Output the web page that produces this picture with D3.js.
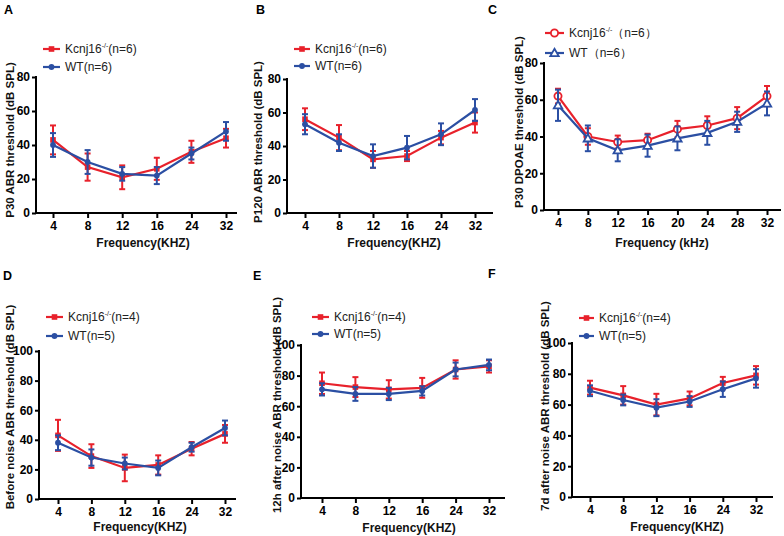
<!DOCTYPE html>
<html><head><meta charset="utf-8">
<script src="https://cdn.jsdelivr.net/npm/d3@7/dist/d3.min.js"></script>
<style>
body{margin:0;background:#fff;}
svg{display:block;font-family:"Liberation Sans",Arial,sans-serif;}
</style></head>
<body>
<svg id="chart" width="784" height="536"></svg>
<script>
// ---------- DATA ----------
const freq6 = ["4","8","12","16","24","32"];
const freq8 = ["4","8","12","16","20","24","28","32"];

const aKcnj = [43,27,21,26,36,44];      const aKcnjErr = [8.5,8,7,6.5,6.5,5.5];
const aWT   = [40,30,23,22,35,48];      const aWTErr   = [7,7,4,5,3.5,5.5];
const bKcnj = [56,45,32,34,45,54];      const bKcnjErr = [6.5,7.5,5,3,4,6];
const bWT   = [53,42,34,39,47,61.5];    const bWTErr   = [6,5,7,7,6.5,6.5];
const cKcnj = [62,40,37,38,44,46,50,62];   const cKcnjErr = [4,4.5,3.5,3.5,4.5,5,6,5.5];
const cWT   = [57,39,32.5,35,39,42,48,58]; const cWTErr   = [8.5,7,6,6,6.5,6.5,5.5,6.5];
const dKcnj = [43,29,21,23,34,44];      const dKcnjErr = [10.5,8,9,6.5,4.5,6];
const dWT   = [38,28,24,21,35,48];      const dWTErr   = [5,5.5,4,5,3,5];
const eKcnj = [75,72.5,71,72,84,86];    const eKcnjErr = [7,6.5,6,6.5,6,4];
const eWT   = [71,68,68,70,84,87];      const eWTErr   = [4,4.5,4,3,4.5,3.5];
const fKcnj = [71,66,60,64,74,79];      const fKcnjErr = [4.5,6,7,4.5,4,6];
const fWT   = [69,63,58,62,70,77];      const fWTErr   = [3.5,3.5,5.5,3.5,5,6];

const yLabels = ["P30 ABR threshold (dB SPL)","P120 ABR threshold (dB SPL)","P30 DPOAE threshold (dB SPL)",
  "Before noise ABR threshold (dB SPL)","12h after noise ABR threshold (dB SPL)","7d after noise ABR threshold (dB SPL)"];
const xLabels = ["Frequency(KHZ)","Frequency(KHZ)","Frequency (kHz)","Frequency(KHZ)","Frequency(KHZ)","Frequency(KHZ)"];
const letters = ["A","B","C","D","E","F"];
const nKcnj = ["6","6","6","4","4","4"];
const nWT   = ["6","6","6","5","5","5"];

// ---------- LAYOUT ----------
const RED = "#e8212b", BLUE = "#2b4fa3";
const panels = [
  {id:0, cats:freq6, k:aKcnj, ke:aKcnjErr, w:aWT, we:aWTErr, yMax:80,
   yx:36, x0:53, x1:226, xend:236, yBot:213, yTop:77, lx:43, lw:17, ly:49, ly2:67, ylx:10, ylc:140, xlc:143, xly:247, letX:4, letY:14, open:false},
  {id:1, cats:freq6, k:bKcnj, ke:bKcnjErr, w:bWT, we:bWTErr, yMax:80,
   yx:287, x0:305, x1:475, xend:492, yBot:213, yTop:79, lx:294, lw:16, ly:49, ly2:66, ylx:258, ylc:142, xlc:394, xly:247, letX:256, letY:14, open:false},
  {id:2, cats:freq8, k:cKcnj, ke:cKcnjErr, w:cWT, we:cWTErr, yMax:80,
   yx:544, x0:558, x1:767, xend:780, yBot:210, yTop:63, lx:545, lw:19, ly:33, ly2:53, ylx:519, ylc:122, xlc:662, xly:247, letX:488, letY:14, open:true},
  {id:3, cats:freq6, k:dKcnj, ke:dKcnjErr, w:dWT, we:dWTErr, yMax:100,
   yx:39, x0:58, x1:225, xend:235, yBot:499, yTop:351, lx:46, lw:17, ly:317, ly2:336, ylx:10, ylc:407, xlc:140, xly:531, letX:3, letY:280, open:false},
  {id:4, cats:freq6, k:eKcnj, ke:eKcnjErr, w:eWT, we:eWTErr, yMax:100,
   yx:301, x0:322, x1:489, xend:504, yBot:498, yTop:345, lx:312, lw:17, ly:317, ly2:334, ylx:277, ylc:405, xlc:409, xly:532, letX:253, letY:280, open:false},
  {id:5, cats:freq6, k:fKcnj, ke:fKcnjErr, w:fWT, we:fWTErr, yMax:100,
   yx:572, x0:590, x1:756, xend:772, yBot:497, yTop:343, lx:579, lw:15, ly:318, ly2:336, ylx:545, ylc:406, xlc:677, xly:531, letX:488, letY:278, open:false}
];

const svg = d3.select("#chart");

function marker(g, kind, cx, cy, color, open){
  if(kind==="k"){
    if(open){
      g.append("circle").attr("cx",cx).attr("cy",cy).attr("r",3.6)
        .attr("fill","#fff").attr("stroke",color).attr("stroke-width",1.8);
    } else {
      g.append("rect").attr("x",cx-2.8).attr("y",cy-2.8).attr("width",5.6).attr("height",5.6).attr("fill",color);
    }
  } else {
    if(open){
      const s=4.2;
      g.append("path").attr("d",`M${cx},${cy-s}L${cx+s},${cy+s*0.75}L${cx-s},${cy+s*0.75}Z`)
        .attr("fill","#fff").attr("stroke",color).attr("stroke-width",1.8);
    } else {
      g.append("circle").attr("cx",cx).attr("cy",cy).attr("r",2.9).attr("fill",color);
    }
  }
}

panels.forEach(p=>{
  const g = svg.append("g");
  const x = d3.scalePoint().domain(p.cats).range([p.x0,p.x1]);
  const y = d3.scaleLinear().domain([0,p.yMax]).range([p.yBot,p.yTop]);

  // axes
  const ya = g.append("g").attr("transform",`translate(${p.yx},0)`)
    .call(d3.axisLeft(y).tickValues(d3.range(0,p.yMax+1,20)).tickSize(4).tickPadding(2).tickSizeOuter(0));
  const xa = g.append("g").attr("transform",`translate(0,${p.yBot})`)
    .call(d3.axisBottom(x).tickSize(5).tickPadding(3).tickSizeOuter(0));
  xa.select(".domain").attr("d",`M${p.yx},0H${p.xend}`);
  ya.select(".domain").attr("d",`M0,${p.yTop}V${p.yBot}`);
  [ya,xa].forEach(a=>{
    a.selectAll(".domain,.tick line").attr("stroke","#000").attr("stroke-width",2);
    a.selectAll(".domain").attr("stroke-linecap","square");
    a.selectAll("text").attr("font-size",12).attr("font-weight","bold").attr("fill","#000")
      .attr("font-family","'Liberation Sans',Arial,sans-serif");
  });

  // series
  const series = [
    {vals:p.k, err:p.ke, color:RED, kind:"k"},
    {vals:p.w, err:p.we, color:BLUE, kind:"w"}
  ];
  series.forEach(s=>{
    const sg = g.append("g");
    const line = d3.line().x((d,i)=>x(p.cats[i])).y(d=>y(d));
    sg.append("path").datum(s.vals).attr("d",line).attr("fill","none")
      .attr("stroke",s.color).attr("stroke-width",2.2);
    s.vals.forEach((v,i)=>{
      const cx = x(p.cats[i]);
      const hi = y(v+s.err[i]), lo = y(v-s.err[i]);
      sg.append("line").attr("x1",cx).attr("x2",cx).attr("y1",hi).attr("y2",lo)
        .attr("stroke",s.color).attr("stroke-width",2);
      [hi,lo].forEach(yy=>sg.append("line").attr("x1",cx-3).attr("x2",cx+3).attr("y1",yy).attr("y2",yy)
        .attr("stroke",s.color).attr("stroke-width",2));
      marker(sg, s.kind, cx, y(v), s.color, p.open);
    });
  });

  // legend
  const leg = [
    {color:RED, kind:"k", ly:p.ly, n:nKcnj[p.id]},
    {color:BLUE, kind:"w", ly:p.ly2, n:nWT[p.id]}
  ];
  leg.forEach(l=>{
    g.append("line").attr("x1",p.lx).attr("x2",p.lx+p.lw).attr("y1",l.ly).attr("y2",l.ly)
      .attr("stroke",l.color).attr("stroke-width",2.2);
    marker(g, l.kind, p.lx+p.lw/2, l.ly, l.color, p.open);
    const t = g.append("text").attr("x",p.lx+p.lw+5).attr("y",l.ly+4.3)
      .attr("font-size",12).attr("fill","#222");
    const lp = p.open ? "（" : "(", rp = p.open ? "）" : ")";
    if(l.kind==="k"){
      t.append("tspan").text("Kcnj16");
      t.append("tspan").attr("font-size",7).attr("dy",-5).text("-/-");
      t.append("tspan").attr("dy",5).text(lp+"n="+l.n+rp);
    } else {
      t.append("tspan").text("WT"+lp+"n="+l.n+rp);
    }
  });

  // axis labels
  g.append("text").attr("transform",`translate(${p.ylx},${p.ylc}) rotate(-90)`)
    .attr("text-anchor","middle").attr("dy","0.36em")
    .attr("font-size",11.5).attr("font-weight","bold").attr("fill","#111").text(yLabels[p.id]);
  g.append("text").attr("x",p.xlc).attr("y",p.xly).attr("text-anchor","middle")
    .attr("font-size",12).attr("font-weight","bold").attr("fill","#111").text(xLabels[p.id]);
  g.append("text").attr("x",p.letX).attr("y",p.letY)
    .attr("font-size",12.5).attr("font-weight","bold").attr("fill","#000").text(letters[p.id]);
});
</script>
</body></html>
